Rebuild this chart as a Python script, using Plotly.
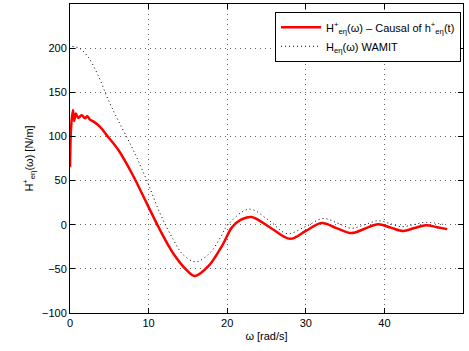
import plotly.graph_objects as go

# Causal estimate (red)
w_causal = [0, 0.15, 0.38, 0.52, 0.75, 1.05, 1.48, 1.9, 2.2, 2.54, 2.96, 3.8, 4.8, 6.2,
            8.0, 9.75, 11.45, 13.1, 14.8, 15.9, 17.6, 19.4, 20.6, 21.7, 23.1, 25.6, 28.0, 30.0,
            32.0, 33.9, 35.8, 37.5, 39.2, 40.8, 42.4, 43.8, 45.3, 46.7, 48.0]
h_causal = [65, 112, 130, 117.5, 126, 121, 124, 120.5, 123, 119, 117, 111, 100, 84,
            56, 24.5, -6, -32, -51, -58, -47, -23, -3, 5.5, 8.7, -4, -16, -7,
            2, -3.8, -9.5, -4.5, 0.5, -3.3, -7, -3.8, -0.5, -2.8, -5]

# WAMIT (black dotted)
w_wamit = [0.3, 1.23, 2.3, 3.56, 4.8, 6.1, 8.05, 9.75, 11.45, 13.15, 14.4, 16.0, 17.8,
           19.1, 20.1, 22.8, 25.3, 27.6, 30.0, 32.2, 34.0, 35.8, 37.5, 39.2, 40.8, 42.2,
           43.7, 45.2, 47.7]
h_wamit = [202, 199.7, 190, 169.5, 143, 118.6, 84.6, 50.6, 13, -17, -34, -42, -32,
           -15, 0, 17.6, 5, -10, -2, 7, 2, -4, 0, 4.5, 1, -2.3, 0, 2.7, 0]

x_ticks = [0, 10, 20, 30, 40, 50]
y_ticks = [-100, -50, 0, 50, 100, 150, 200, 250]

font = dict(family="Liberation Sans, Arial, sans-serif", size=11, color="black")

fig = go.Figure()
fig.add_trace(go.Scatter(
    x=w_causal, y=h_causal, mode="lines",
    line=dict(color="red", width=2.5, shape="spline", smoothing=1.0),
    name="H<sup>+</sup><sub>eη</sub>(ω) – Causal of h<sup>+</sup><sub>eη</sub>(t)"))
fig.add_trace(go.Scatter(
    x=w_wamit, y=h_wamit, mode="lines",
    line=dict(color="black", width=1, dash="1px,3px", shape="spline", smoothing=1.0),
    name="H<sub>eη</sub>(ω) WAMIT"))

axis_common = dict(
    showline=True, linecolor="black", linewidth=1, mirror="ticks",
    ticks="inside", ticklen=5, tickcolor="black", tickwidth=1,
    showgrid=True, gridcolor="rgba(0,0,0,0.6)", griddash="1px,4px", gridwidth=1,
    zeroline=False, tickfont=font,
)

fig.update_layout(
    width=469, height=351,
    margin=dict(l=70, r=6, t=4, b=38),
    paper_bgcolor="white", plot_bgcolor="white",
    font=font,
    xaxis=dict(range=[0, 50], tickvals=x_ticks,
               title=dict(text="ω [rad/s]", font=font, standoff=4), **axis_common),
    yaxis=dict(range=[-100, 250], tickvals=y_ticks,
               title=dict(text="H<sup>+</sup><sub>eη</sub>(ω) [N/m]", font=font, standoff=6),
               **axis_common),
    legend=dict(x=0.995, y=0.975, xanchor="right", yanchor="top",
                bgcolor="white", bordercolor="black", borderwidth=1,
                font=font, tracegroupgap=0, itemwidth=40),
    showlegend=True,
)

fig.write_html("out.html")
